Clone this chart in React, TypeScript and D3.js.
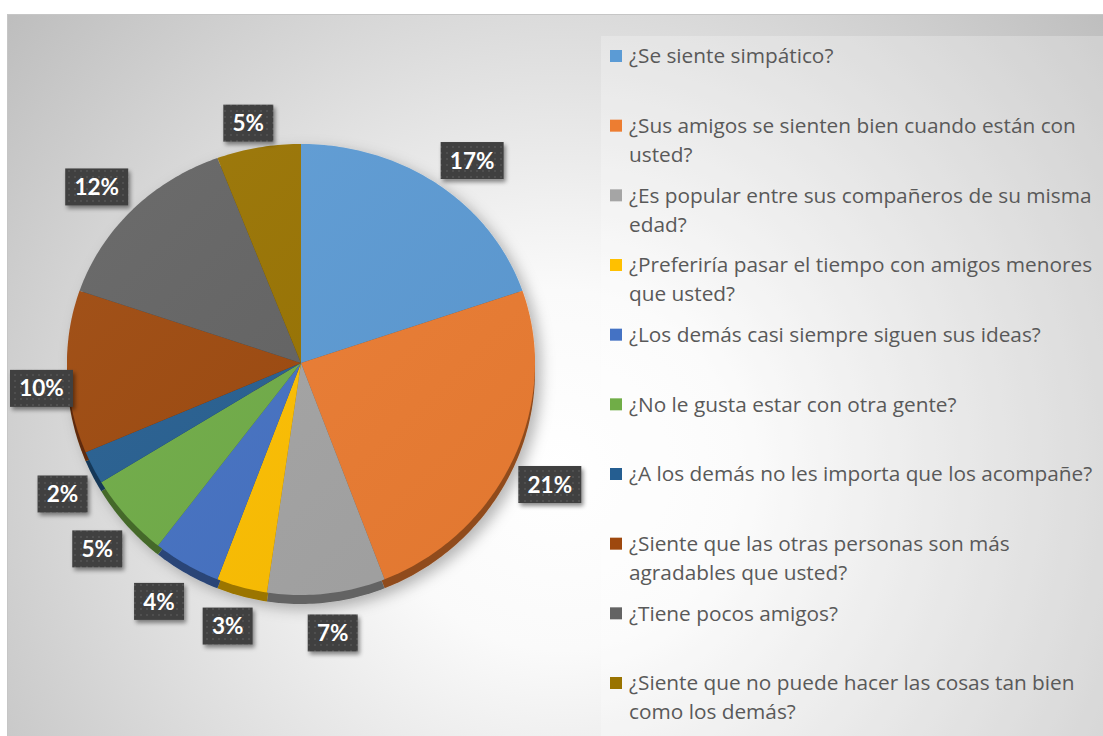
import React from 'react';
import * as d3 from 'd3';

const categories = [
    '¿Se siente simpático?',
    '¿Sus amigos se sienten bien cuando están con\nusted?',
    '¿Es popular entre sus compañeros de su misma\nedad?',
    '¿Preferiría pasar el tiempo con amigos menores\nque usted?',
    '¿Los demás casi siempre siguen sus ideas?',
    '¿No le gusta estar con otra gente?',
    '¿A los demás no les importa que los acompañe?',
    '¿Siente que las otras personas son más\nagradables que usted?',
    '¿Tiene pocos amigos?',
    '¿Siente que no puede hacer las cosas tan bien\ncomo los demás?',
];
const values = [17, 21, 7, 3, 4, 5, 2, 10, 12, 5];
const colors = ['#5B9BD5', '#ED7D31', '#A5A5A5', '#FFC000', '#4472C4', '#70AD47', '#255E91', '#9E480E', '#636363', '#997300'];

const W = 1103;
const H = 736;
const CX = 301;
const CY = 363;
const RX = 234;
const RY = 225.5;
const TILT = 6.5;
const DEPTH = 9;

// unit circle -> tilted ellipse
const project = (a: number, k = 1): [number, number] => {
    const sx = Math.sin(a) * k;
    const sy = -Math.cos(a) * k;
    return [CX + RX * sx, CY + RY * sy + TILT * sy * sy];
};

const line = d3.line().curve(d3.curveLinearClosed);

const slicePath = (s: any, dy = 0) => {
    const n = Math.max(4, Math.ceil((s.endAngle - s.startAngle) * 60));
    const pts: [number, number][] = [[CX, CY + dy]];
    d3.range(n + 1).forEach(i => {
        const a = s.startAngle + (s.endAngle - s.startAngle) * i / n;
        const [x, y] = project(a);
        pts.push([x, y + dy]);
    });
    return line(pts) as string;
};

const App = () => {
    const arcs = d3.pie<number>().sort(null).value(d => d)(values);
    const legendY = d3.scalePoint<string>().domain(categories).range([56, 683]);

    const labels = arcs.map((s, i) => {
        const mid = (s.startAngle + s.endAngle) / 2;
        const sx = Math.sin(mid);
        const sy = -Math.cos(mid);
        const [ex, ey] = project(mid);
        const text = values[i] + '%';
        const w = text.length > 2 ? 63 : 50;
        const h = 37;
        const ax = ex + sx * 6;
        const ay = ey + sy * 6 + (DEPTH + 6) * Math.max(0, sy);
        let x = ax + (w / 2) * Math.max(-1, Math.min(1, sx * 2));
        let y = ay + (h / 2) * Math.max(-1, Math.min(1, sy * 2));
        if (x - w / 2 < 10) {
            // pushed inside the chart area, nudged down like the original
            x = 10 + w / 2;
            y += 15;
        }
        return {x, y, w, h, text};
    });

    return (
        <div style={{position: 'absolute', left: 0, top: 0}}>
            <svg width={W} height={H} style={{display: 'block'}}>
                <defs>
                    <radialGradient id="bg" cx="560" cy="470" r="720" gradientUnits="userSpaceOnUse">
                        <stop offset="0" stopColor="#ffffff"/>
                        <stop offset="0.25" stopColor="#fafafa"/>
                        <stop offset="1" stopColor="#bdbdbd"/>
                    </radialGradient>
                    <pattern id="dots" width="6" height="6" patternUnits="userSpaceOnUse">
                        <rect width="6" height="6" fill="#404040"/>
                        <circle cx="3" cy="3" r="0.9" fill="#575757"/>
                    </pattern>
                    <filter id="pieShadow" x="-20%" y="-20%" width="140%" height="140%">
                        <feDropShadow dx="6" dy="5" stdDeviation="7" floodColor="#000" floodOpacity="0.28"/>
                    </filter>
                    <filter id="boxShadow" x="-30%" y="-30%" width="160%" height="160%">
                        <feDropShadow dx="2" dy="3" stdDeviation="2" floodColor="#000" floodOpacity="0.45"/>
                    </filter>
                    <linearGradient id="sheen" x1="0" y1="0" x2="1" y2="1">
                        <stop offset="0" stopColor="#fff" stopOpacity="0.06"/>
                        <stop offset="1" stopColor="#000" stopOpacity="0.05"/>
                    </linearGradient>
                </defs>

                <rect x={7.5} y={14.5} width={W} height={H} fill="url(#bg)" stroke="#c6c6c6"/>
                <rect x={601} y={36} width={W - 601} height={H - 36} fill="#fff" fillOpacity={0.25}/>

                <g filter="url(#pieShadow)">
                    {arcs.map((s, i) => (
                        <path key={'side' + i} d={slicePath(s, DEPTH)}
                              fill={d3.color(colors[i])!.darker(1.4).formatHex()}/>
                    ))}
                    {arcs.map((s, i) => (
                        <path key={'top' + i} d={slicePath(s)} fill={colors[i]}/>
                    ))}
                </g>
                <path d={slicePath({startAngle: 0, endAngle: 2 * Math.PI})} fill="url(#sheen)"/>

                {labels.map((l, i) => (
                    <g key={'lab' + i}>
                        <rect x={l.x - l.w / 2} y={l.y - l.h / 2} width={l.w} height={l.h}
                              fill="url(#dots)" filter="url(#boxShadow)"/>
                        <text x={l.x} y={l.y} dy="0.36em" textAnchor="middle" fill="#fff"
                              fontFamily="Lato, 'Open Sans', sans-serif" fontWeight="bold" fontSize={22.5}>
                            {l.text}
                        </text>
                    </g>
                ))}

                {categories.map((c, i) => {
                    const y0 = legendY(c)!;
                    return (
                        <g key={'leg' + i}>
                            <rect x={610} y={y0 - 6} width={12} height={12} fill={colors[i]}/>
                            <text fontFamily="'Open Sans', sans-serif" fontSize={20.8} fill="#595959">
                                {c.split('\n').map((t, j) => (
                                    <tspan key={j} x={629} y={y0 + j * 29} dy="0.35em">{t}</tspan>
                                ))}
                            </text>
                        </g>
                    );
                })}
            </svg>
        </div>
    );
};

export default App;
